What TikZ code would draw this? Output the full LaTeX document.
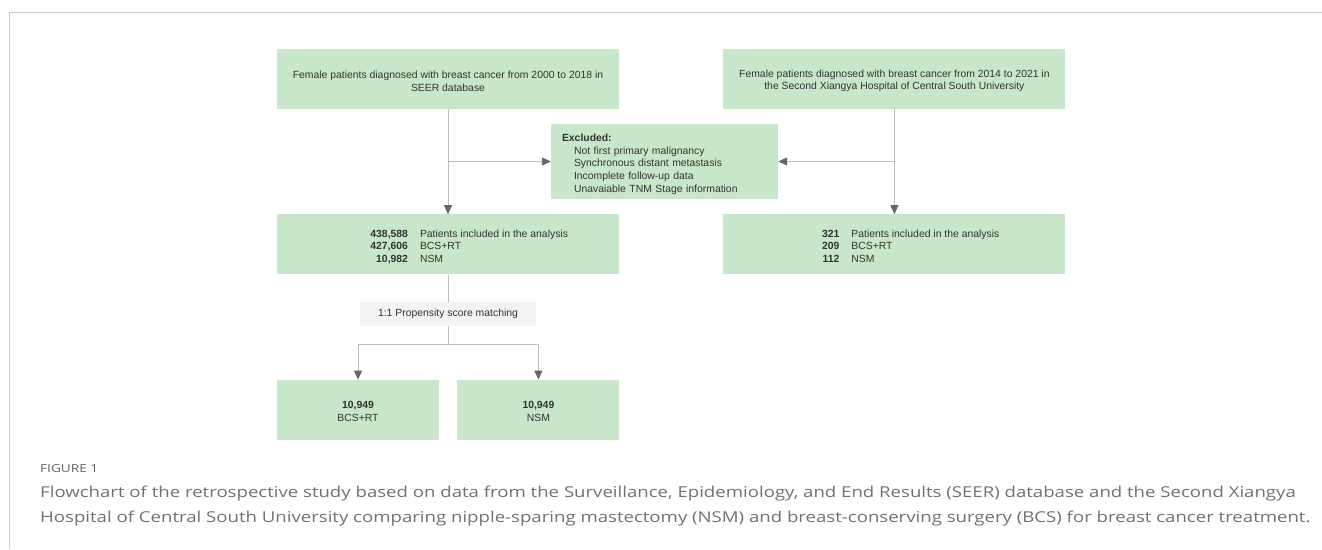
\documentclass[tikz,border=0pt]{standalone}
\usepackage{fontspec}
\usepackage{array}
\setmainfont{Liberation Sans}
\newfontfamily\captionfont[FakeStretch=1.24]{Open Sans}
\usetikzlibrary{arrows.meta,positioning}
\definecolor{boxgreen}{HTML}{C8E6C9}
\definecolor{psmgray}{HTML}{F3F3F3}
\definecolor{linegray}{HTML}{BDBDBD}
\definecolor{tipgray}{HTML}{666666}
\definecolor{textgray}{HTML}{333333}
\definecolor{framegray}{HTML}{CCCCCC}
\definecolor{capgray}{HTML}{707070}
% lower a line of text without changing the size TikZ sees
\newcommand{\lowered}[2]{\raisebox{-#1}[\height][\depth]{#2}}

\begin{document}
\begin{tikzpicture}[
  x=1pt, y=-1pt,
  every node/.style={font=\fontsize{10.4}{12.6}\selectfont, text=textgray},
  box/.style={rectangle, fill=boxgreen, align=center, minimum width=342pt, minimum height=60pt, inner sep=0pt},
  smallbox/.style={box, minimum width=162pt},
  exclbox/.style={rectangle, fill=boxgreen, align=left, text width=205pt, inner xsep=11pt, inner ysep=0pt, minimum height=75pt},
  psmbox/.style={rectangle, fill=psmgray, minimum width=176pt, minimum height=24pt, inner sep=0pt},
  caption/.style={anchor=base west, inner sep=0pt, text=capgray},
  link/.style={draw=linegray, line width=0.9pt},
  arrow/.style={link, -{Triangle[length=9pt, width=8pt, color=tipgray]}}
]
\useasboundingbox (0,0) rectangle (1322,549);
\draw[framegray, line width=1pt] (9,549) -- (9,12) -- (1322,12);

% Sources
\node[box] (seer) at (448,79) {\lowered{2pt}{Female patients diagnosed with breast cancer from 2000 to 2018 in}\\\lowered{2pt}{SEER database}};
\node[box, right=104pt of seer] (xiangya) {\lowered{2pt}{Female patients diagnosed with breast cancer from 2014 to 2021 in}\\\lowered{2pt}{the Second Xiangya Hospital of Central South University}};

\node[exclbox] (excl) at (664.5,161.5) {\rule{0pt}{13pt}\textbf{Excluded:}\\
  \hspace*{12pt}Not first primary malignancy\\
  \hspace*{12pt}Synchronous distant metastasis\\
  \hspace*{12pt}Incomplete follow-up data\\
  \hspace*{12pt}Unavaiable TNM Stage information};

% Included
\node[box, below=105pt of seer] (seerinc) {\lowered{3pt}{\begin{tabular}{@{}>{\raggedleft\arraybackslash}p{122pt}@{\hspace{12pt}}p{190pt}@{}}
  \textbf{438,588} & Patients included in the analysis\\
  \textbf{427,606} & BCS+RT\\
  \textbf{10,982} & NSM
\end{tabular}}};
\node[box, below=105pt of xiangya] (xiangyainc) {\lowered{3pt}{\begin{tabular}{@{}>{\raggedleft\arraybackslash}p{92pt}@{\hspace{12pt}}p{190pt}@{}}
  \textbf{321} & Patients included in the analysis\\
  \textbf{209} & BCS+RT\\
  \textbf{112} & NSM
\end{tabular}}};

% Matching
\node[psmbox, below=27pt of seerinc] (psm) {1:1 Propensity score matching};
\coordinate[below=18pt of psm.south] (fork);

\node[smallbox, below right=105pt and 0pt of seerinc.south west] (bcs) {\lowered{1.5pt}{\textbf{10,949}}\\\lowered{1.5pt}{BCS+RT}};
\node[smallbox, right=18pt of bcs] (nsm) {\lowered{1.5pt}{\textbf{10,949}}\\\lowered{1.5pt}{NSM}};

% Arrows
\draw[arrow] (seer) -- (seerinc);
\draw[arrow] (xiangya) -- (xiangyainc);

\coordinate (seerjoin) at (seer.south |- excl.west);
\coordinate (xiangyajoin) at (xiangya.south |- excl.east);
\draw[arrow] (seerjoin) -- (excl.west);
\draw[arrow] (xiangyajoin) -- (excl.east);

\draw[link] (seerinc) -- (psm);
\draw[link] (psm) -- (fork);
\draw[arrow] (fork) -| (bcs);
\draw[arrow] (fork) -| (nsm);

% Caption
\node[caption, font=\captionfont\fontsize{11}{12}\selectfont, text=black!62] (figlabel) at (40,472) {FIGURE 1};
\node[caption, font=\captionfont\fontsize{15}{18}\selectfont] (capline1) at (40,497) {Flowchart of the retrospective study based on data from the Surveillance, Epidemiology, and End Results (SEER) database and the Second Xiangya};
\node[caption, font=\captionfont\fontsize{15}{18}\selectfont] (capline2) at (40,522) {Hospital of Central South University comparing nipple-sparing mastectomy (NSM) and breast-conserving surgery (BCS) for breast cancer treatment.};

\end{tikzpicture}
\end{document}
